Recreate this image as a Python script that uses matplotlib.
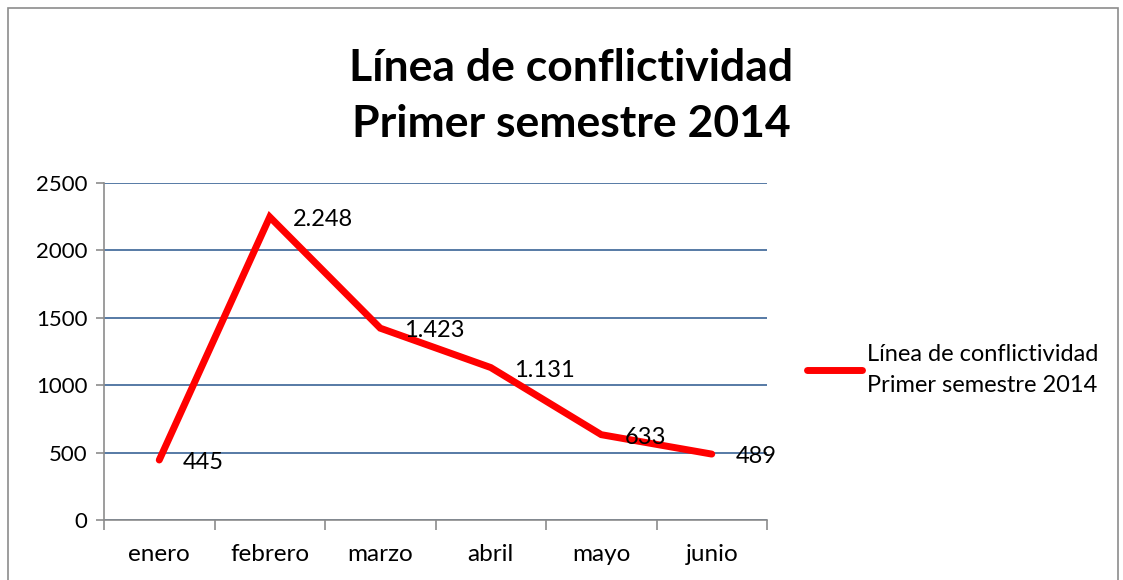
import numpy as np
import matplotlib.pyplot as plt
from matplotlib.patches import Rectangle

# datos
meses = ["enero", "febrero", "marzo", "abril", "mayo", "junio"]
conflictos = [445, 2248, 1423, 1131, 633, 489]
etiquetas = ["445", "2.248", "1.423", "1.131", "633", "489"]
y_ticks = [0, 500, 1000, 1500, 2000, 2500]
titulo = "Línea de conflictividad\nPrimer semestre 2014"

plt.rcParams['font.family'] = ['Lato', 'DejaVu Sans']

fig = plt.figure(figsize=(11.23, 5.80), dpi=100)
W, H = 1123, 580
ax = fig.add_axes([104 / W, 1 - 520 / H, (767 - 104) / W, (520 - 183) / H])

# marco exterior
fig.patches.append(Rectangle((8 / W, -0.1), (1118 - 8) / W, 1.1 - 8 / H,
                             transform=fig.transFigure, fill=False,
                             edgecolor="#8c8c8c", linewidth=1.2))

x = np.arange(len(meses))
ax.plot(x, conflictos, color="#ff0000", linewidth=5, solid_capstyle="round",
        solid_joinstyle="miter", label=titulo, zorder=3)

for xi, yi, t in zip(x, conflictos, etiquetas):
    ax.annotate(t, (xi, yi), xytext=(17, -2), textcoords="offset points",
                ha="left", va="center", fontsize=17, color="black", zorder=4)

ax.set_xlim(-0.5, len(meses) - 0.5)
ax.set_ylim(0, 2500)
ax.set_yticks(y_ticks)
ax.set_yticklabels([str(v) for v in y_ticks], fontsize=16)
ax.set_xticks(x)
ax.set_xticklabels(meses, fontsize=17.5)
ax.tick_params(axis="x", length=0, pad=17)
ax.tick_params(axis="y", length=6, width=1.2, color="#8c8c8c", pad=6)
ax.set_xticks(np.arange(-0.5, len(meses)), minor=True)
ax.tick_params(axis="x", which="minor", length=7, width=1.2, color="#8c8c8c",
               direction="out")

ax.grid(axis="y", color="#3a6496", linewidth=1.2)
ax.set_axisbelow(True)
for s in ["top", "right"]:
    ax.spines[s].set_visible(False)
ax.spines["left"].set_color("#8c8c8c")
ax.spines["bottom"].set_color("#8c8c8c")
ax.spines["left"].set_linewidth(1.2)
ax.spines["bottom"].set_linewidth(1.2)

fig.text(571 / W, 1 - 96 / H, titulo, ha="center", va="center",
         fontsize=32, fontweight="bold", linespacing=1.5)

leg = fig.legend(loc="center left", bbox_to_anchor=(786 / W, 1 - 370 / H),
                 frameon=False, fontsize=17, handlelength=2.3,
                 handletextpad=0.25)
for line in leg.get_lines():
    line.set_linewidth(5)
for t in leg.get_texts():
    t.set_linespacing(1.6)

fig.savefig("out.png", dpi=100)
